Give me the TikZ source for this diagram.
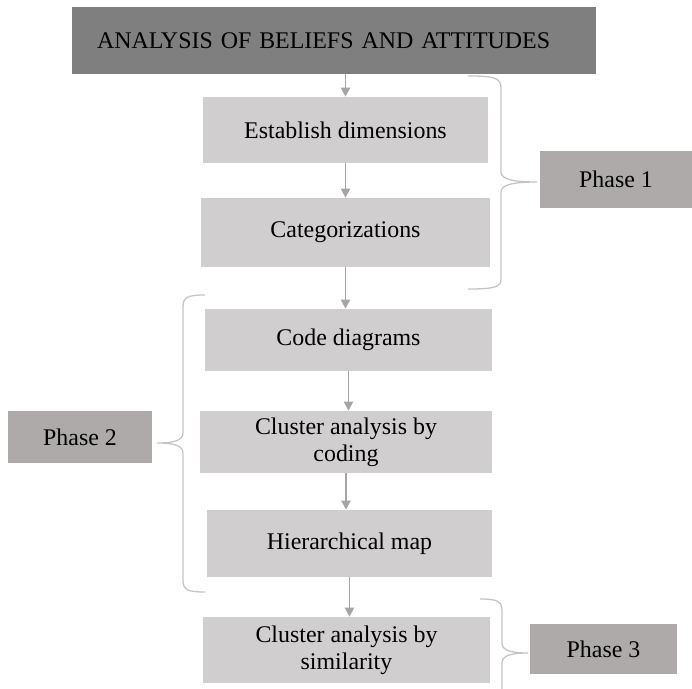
\documentclass[tikz,border=0pt]{standalone}
\usepackage{fontspec}
\setmainfont{Liberation Serif}
\usepackage{tikz}
\usetikzlibrary{arrows.meta}

\definecolor{titlegray}{HTML}{7F7F7F}
\definecolor{stepgray}{HTML}{D0CECE}
\definecolor{phasegray}{HTML}{AEAAAA}
\definecolor{arrowgray}{HTML}{A5A5A5}
\definecolor{bracegray}{HTML}{C4C4C4}

\newcommand{\pu}{0.025cm}

\tikzset{
	titlebox/.style={fill=titlegray, text width=474*\pu, align=left, inner xsep=25*\pu, inner ysep=0pt, minimum height=67*\pu, font=\fontsize{17}{19.5}\selectfont},
	stepbox/.style={fill=stepgray, align=center, inner sep=0pt, font=\fontsize{17}{19.5}\selectfont},
	phasebox/.style={fill=phasegray, inner sep=0pt, font=\fontsize{17}{19.5}\selectfont},
	flow/.style={draw=arrowgray, line width=1.4pt, -{Triangle[width=6.5pt,length=6.5pt]}},
	bracket/.style={draw=bracegray, line width=0.9pt},
}

\begin{document}
\begin{tikzpicture}[x=\pu, y=-\pu]

	\clip (0,0) rectangle (692,689);

	\node[titlebox] (title) at (334,40.5) {ANALYSIS OF BELIEFS AND ATTITUDES};

	\node[stepbox, minimum width=285*\pu, minimum height=66*\pu] (est)  at (345.5,130)   {Establish dimensions};
	\node[stepbox, minimum width=289*\pu, minimum height=69*\pu] (cat)  at (345.5,232.5) {Categorizations};
	\node[stepbox, minimum width=287*\pu, minimum height=62*\pu] (code) at (348.5,340)   {Code diagrams};
	\node[stepbox, minimum width=292*\pu, minimum height=62*\pu] (cod)  at (346,442)     {Cluster analysis by\\coding};
	\node[stepbox, minimum width=285*\pu, minimum height=67*\pu] (hier) at (349.5,543.5) {Hierarchical map};
	\node[stepbox, minimum width=287*\pu, minimum height=66*\pu] (sim)  at (346.5,650)   {Cluster analysis by\\similarity};

	\node[phasebox, minimum width=152*\pu, minimum height=57*\pu] (ph1) at (616,179.5) {Phase 1};
	\node[phasebox, minimum width=144*\pu, minimum height=52*\pu] (ph2) at (80,437)    {Phase 2};
	\node[phasebox, minimum width=147*\pu, minimum height=50*\pu] (ph3) at (603.5,649) {Phase 3};

	% flow arrows
	\draw[flow] (title.south -| est.north) -- (est.north);
	\foreach \a/\b in {est/cat, cat/code, code/cod, cod/hier, hier/sim}
		\draw[flow] (\a.south) -- (\a.south |- \b.north);

	% braces
	\draw[bracket] (468,76) .. controls (495,76) and (501,78) .. (501,88) -- (501,172)
		.. controls (501,179) and (512,182) .. (537,182) .. controls (512,182) and (501,185) .. (501,192)
		-- (501,279) .. controls (501,287) and (495,289) .. (468,289);
	\draw[bracket] (205,295) .. controls (188,295) and (183,297) .. (183,307) -- (183,433)
		.. controls (183,440) and (175,443) .. (157,443) .. controls (175,443) and (183,446) .. (183,453)
		-- (183,580) .. controls (183,590) and (188,592) .. (205,592);
	\draw[bracket] (480,599) .. controls (497,599) and (502,601) .. (502,611) -- (502,643)
		.. controls (502,650) and (510,653) .. (528,653) .. controls (510,653) and (502,656) .. (502,663)
		-- (502,695) .. controls (502,705) and (497,707) .. (480,707);

\end{tikzpicture}
\end{document}
